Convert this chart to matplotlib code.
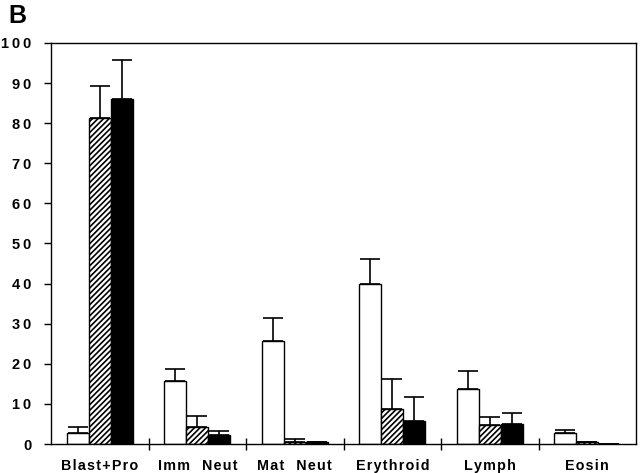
import matplotlib
matplotlib.use("Agg")
import matplotlib.pyplot as plt
import numpy as np

plt.rcParams['font.family'] = ['Liberation Sans', 'DejaVu Sans']
plt.rcParams['hatch.linewidth'] = 1.2

categories = ["Blast+Pro", "Imm  Neut", "Mat  Neut", "Erythroid", "Lymph", "Eosin"]
white_vals = [2.7, 15.7, 25.7, 40.0, 13.8, 2.8]
white_err = [1.6, 3.1, 5.6, 6.1, 4.5, 0.8]
hatched_vals = [81.3, 4.3, 0.6, 8.7, 4.7, 0.4]
hatched_err = [8.0, 2.7, 0.6, 7.6, 2.1, 0.2]
black_vals = [86.0, 2.3, 0.4, 5.7, 5.0, 0.1]
black_err = [9.7, 1.0, 0.2, 5.9, 2.7, 0.0]
yticks = [0, 10, 20, 30, 40, 50, 60, 70, 80, 90, 100]

def spaced(s, sep):
    words = s.split()
    return "   ".join(sep.join(list(wd)) for wd in words)

fig = plt.figure(figsize=(6.4, 4.73), dpi=100)
ax = fig.add_axes([51/640, 1-444/473, (636-51)/640, (444-43)/473])

x = np.arange(len(categories))
w = 0.225
ekw = dict(elinewidth=1.2, capthick=1.2, ecolor='black')
for off, vals, errs, fc, hatch in [(-w, white_vals, white_err, 'white', None),
                                   (0, hatched_vals, hatched_err, 'white', '//////'),
                                   (w, black_vals, black_err, 'black', None)]:
    ax.bar(x + off, vals, w, color=fc, edgecolor='black', linewidth=1.0, hatch=hatch,
           yerr=[np.zeros(len(errs)), errs], capsize=7, error_kw=ekw, zorder=2)

ax.set_xlim(-0.5, len(categories) - 0.5)
ax.set_ylim(0, 100)
ax.set_yticks(yticks)
ax.set_yticklabels([spaced(str(t), "\u2009") for t in yticks], fontsize=10.5, fontweight='bold')
ax.tick_params(axis='y', direction='out', length=5, width=1, pad=9)

# category boundary ticks
ax.set_xticks(np.arange(0.5, len(categories) - 0.5, 1.0))
ax.set_xticklabels([])
ax.tick_params(axis='x', direction='inout', length=8, width=1)
for i, c in enumerate(categories):
    ax.text(i, -3.7, spaced(c, "\u200a"), ha='center', va='top', fontsize=10.3, fontweight='bold',
            transform=ax.transData)

for s in ax.spines.values():
    s.set_linewidth(1.0)

fig.text(8/640, 1-4/473, "B", ha='left', va='top', fontsize=18, fontweight='bold')

fig.savefig("out.png", dpi=100)
